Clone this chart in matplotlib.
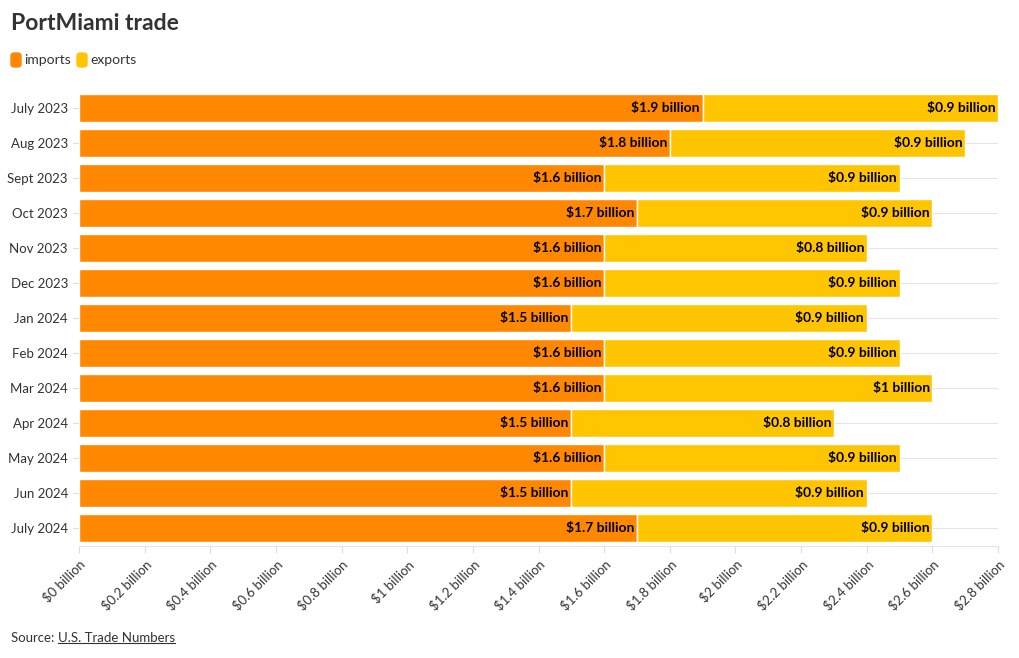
import matplotlib.pyplot as plt
from matplotlib.patches import FancyBboxPatch

months = ["July 2023", "Aug 2023", "Sept 2023", "Oct 2023", "Nov 2023", "Dec 2023",
          "Jan 2024", "Feb 2024", "Mar 2024", "Apr 2024", "May 2024", "Jun 2024", "July 2024"]
imports = [1.9, 1.8, 1.6, 1.7, 1.6, 1.6, 1.5, 1.6, 1.6, 1.5, 1.6, 1.5, 1.7]
exports = [0.9, 0.9, 0.9, 0.9, 0.8, 0.9, 0.9, 0.9, 1.0, 0.8, 0.9, 0.9, 0.9]
xticks = [0, 0.2, 0.4, 0.6, 0.8, 1.0, 1.2, 1.4, 1.6, 1.8, 2.0, 2.2, 2.4, 2.6, 2.8]

C_IMP = "#ff8800"
C_EXP = "#ffc500"
TXT = "#333333"

plt.rcParams["font.family"] = ["Lato", "DejaVu Sans"]

fig = plt.figure(figsize=(10.2, 6.58), dpi=100)
ax = fig.add_axes([79 / 1020, 1 - 545.5 / 658, 919 / 1020, 455 / 658])

y = list(range(len(months)))
ax.barh(y, imports, height=0.8, color=C_IMP, edgecolor="white", linewidth=1, zorder=3)
ax.barh(y, exports, left=imports, height=0.8, color=C_EXP, edgecolor="white", linewidth=1, zorder=3)

def fmt(v):
    s = f"{v:.1f}".rstrip("0").rstrip(".")
    return f"${s} billion"

for i in y:
    ax.text(imports[i] - 0.008, i, fmt(imports[i]), ha="right", va="center",
            fontsize=10, fontweight="bold", color="black", zorder=4)
    ax.text(imports[i] + exports[i] - 0.008, i, fmt(exports[i]), ha="right", va="center",
            fontsize=10, fontweight="bold", color="black", zorder=4)

ax.set_ylim(len(months) - 0.5, -0.5)
ax.set_xlim(0, 2.8)
ax.set_yticks(y)
ax.set_yticklabels(months, fontsize=9.5, color=TXT)
ax.set_xticks(xticks)
ax.set_xticklabels([fmt(v) for v in xticks],
                   rotation=45, ha="right", rotation_mode="anchor", fontsize=9.5, color=TXT)
ax.tick_params(axis="y", length=4, color="#dddddd", pad=4)
ax.tick_params(axis="x", length=5, color="#dddddd", pad=4)
ax.grid(axis="y", color="#e6e6e6", linewidth=0.8, zorder=0)
for s in ["top", "right", "left"]:
    ax.spines[s].set_visible(False)
ax.spines["bottom"].set_color("#e6e6e6")

fig.text(11 / 1020, 1 - 24 / 658, "PortMiami trade", fontsize=16.5, fontweight="bold",
         color=TXT, va="center", ha="left")

# legend
for x0, col, lab in [(11, C_IMP, "imports"), (77, C_EXP, "exports")]:
    fig.patches.append(FancyBboxPatch((x0 / 1020, 1 - 67 / 658), 10 / 1020, 14 / 658,
                                      boxstyle="round,pad=0,rounding_size=0.004",
                                      transform=fig.transFigure, color=col))
    fig.text((x0 + 13) / 1020, 1 - 60 / 658, lab, fontsize=10, color=TXT, va="center", ha="left")

src = fig.text(11 / 1020, 1 - 638 / 658, "Source: ", fontsize=9.5, color=TXT, va="center", ha="left")
fig.canvas.draw()
bb = src.get_window_extent()
link = fig.text(bb.x1 / 1020, 1 - 638 / 658, "U.S. Trade Numbers", fontsize=9.5, color=TXT,
                va="center", ha="left")
fig.canvas.draw()
b2 = link.get_window_extent()
fig.lines.append(plt.Line2D([b2.x0 / 1020, b2.x1 / 1020], [(b2.y0 + 1) / 658] * 2,
                            transform=fig.transFigure, color=TXT, linewidth=0.8))

fig.savefig("out.png", dpi=100)
